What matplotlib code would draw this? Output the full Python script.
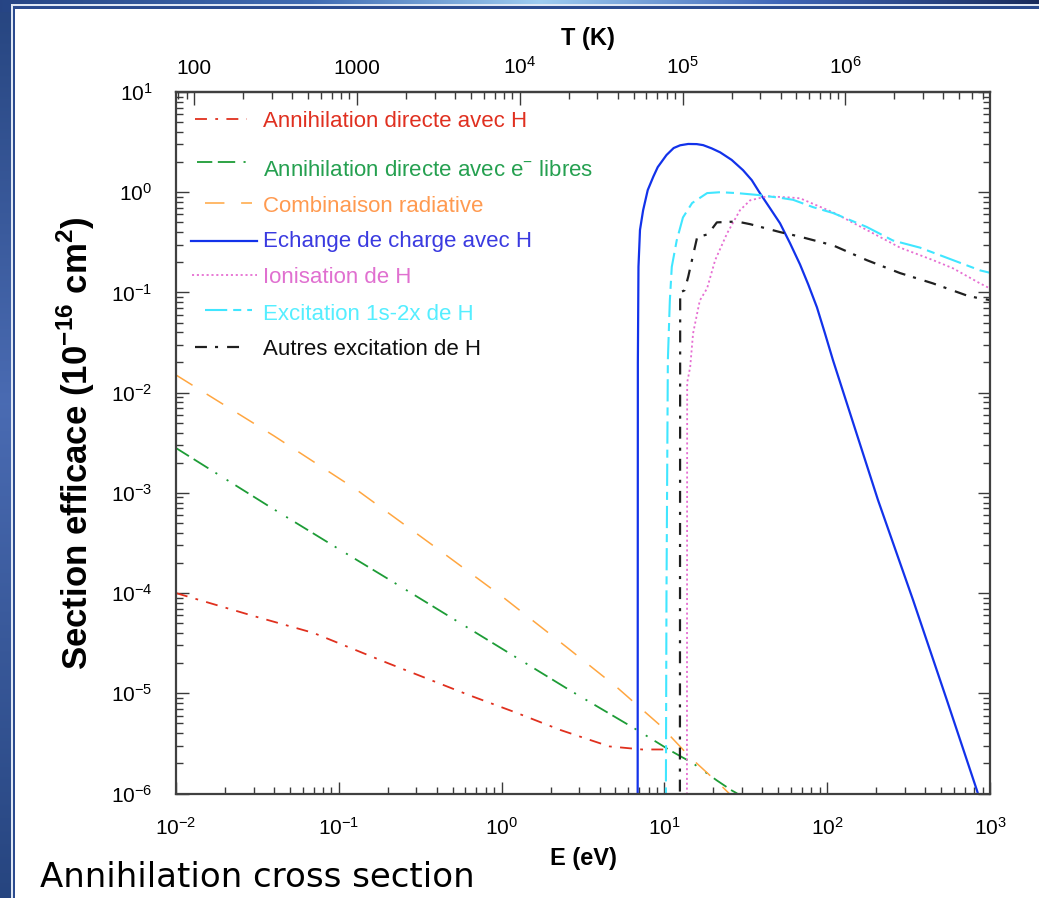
import numpy as np
import matplotlib
matplotlib.use('Agg')
import matplotlib.pyplot as plt
from matplotlib.patches import Rectangle
from matplotlib.ticker import FuncFormatter, FixedLocator, LogLocator, NullFormatter

plt.rcParams['font.family'] = ['Liberation Sans', 'DejaVu Sans']
plt.rcParams['mathtext.fontset'] = 'custom'
plt.rcParams['mathtext.rm'] = 'Liberation Sans'
plt.rcParams['mathtext.bf'] = 'Liberation Sans:bold'
plt.rcParams['axes.unicode_minus'] = False
plt.rcParams['lines.scale_dashes'] = False

# cross sections in 1e-16 cm^2 versus positron energy in eV
e_ann_h = [0.01, 0.03, 0.07, 0.2, 0.64, 1.2, 2.3, 3.35, 4.6, 7.3, 10.5]
s_ann_h = [1.0e-4, 5.9e-5, 4.0e-5, 2.0e-5, 9.5e-6, 6.5e-6, 4.3e-6, 3.5e-6, 2.95e-6, 2.75e-6, 2.75e-6]

e_ann_e = [0.01, 0.038, 0.1, 0.206, 1.0, 2.63, 6.8, 10.8, 15.0, 21.0, 26.0, 28.0]
s_ann_e = [2.8e-3, 7.2e-4, 2.75e-4, 1.35e-4, 2.8e-5, 1.07e-5, 4.3e-6, 2.7e-6, 2.0e-6, 1.35e-6, 1.07e-6, 1.0e-6]

e_rad = [0.01, 0.04, 0.129, 0.4, 1.02, 2.5, 5.1, 9.4, 14.4, 22.9, 25.0]
s_rad = [1.5e-2, 3.7e-3, 1.07e-3, 2.8e-4, 9.1e-5, 2.9e-5, 1.15e-5, 4.8e-6, 2.3e-6, 1.15e-6, 1.0e-6]

e_cx = [6.85, 6.87, 6.93, 7.08, 7.4, 7.9, 8.55, 9.1, 10.3, 11.4, 12.5, 14.0, 15.8, 17.3,
        19.5, 22.0, 25.9, 30.4, 34.4, 38.6, 44.6, 51.3, 59.1, 68.1, 76.5, 86.5, 96.9,
        108.6, 205, 337, 544, 832, 900]
s_cx = [5e-7, 0.02, 0.18, 0.42, 0.66, 1.05, 1.43, 1.78, 2.35, 2.76, 2.94, 3.03, 3.02, 2.95,
        2.74, 2.5, 2.10, 1.66, 1.32, 0.98, 0.69, 0.49, 0.31, 0.19, 0.12, 0.071, 0.039,
        0.021, 8.5e-4, 8.5e-5, 8.5e-6, 1.07e-6, 7e-7]

e_ion = [13.75, 13.8, 14.4, 15.0, 15.9, 16.5, 18.3, 20.5, 24.3, 29.1, 33.6, 42.7, 56.6,
         68.1, 108.6, 175, 280, 447, 593, 869, 973]
s_ion = [5e-7, 0.0126, 0.018, 0.039, 0.062, 0.083, 0.11, 0.21, 0.39, 0.66, 0.83, 0.91, 0.89,
         0.87, 0.63, 0.42, 0.28, 0.21, 0.174, 0.123, 0.112]

e_exc2 = [10.2, 10.3, 10.5, 10.8, 11.1, 11.9, 13.0, 14.8, 18.3, 22.0, 27.9, 37.1, 51.3,
          61.7, 81.8, 108.6, 175, 253, 371, 593, 869, 1000]
s_exc2 = [5e-7, 1e-4, 0.021, 0.083, 0.18, 0.33, 0.56, 0.78, 0.98, 1.0, 0.98, 0.94, 0.88,
          0.84, 0.71, 0.62, 0.45, 0.33, 0.28, 0.21, 0.166, 0.157]

e_exc = [12.45, 12.5, 13.3, 14.0, 15.9, 18.5, 21.0, 27.9, 33.6, 51.3, 68.1, 108.6, 175,
         280, 447, 723, 869, 1000]
s_exc = [5e-7, 0.1, 0.105, 0.143, 0.357, 0.38, 0.50, 0.51, 0.48, 0.40, 0.36, 0.295, 0.21,
         0.156, 0.123, 0.093, 0.087, 0.084]

labels = ['Annihilation directe avec H',
          'Annihilation directe avec e$^{-}$ libres',
          'Combinaison radiative',
          'Echange de charge avec H',
          'Ionisation de H',
          'Excitation 1s-2x de H',
          'Autres excitation de H']

t_ticks = [100, 1000, 1e4, 1e5, 1e6]

# T = 2E / 3k
K_EV = 8.617e-5
def e_to_t(e):
    return 2.0 * np.asarray(e) / (3.0 * K_EV)
def t_to_e(t):
    return 3.0 * K_EV * np.asarray(t) / 2.0

W, H = 1039, 898
fig = plt.figure(figsize=(W / 100, H / 100), dpi=100)

# slide frame
bg = fig.add_axes([0, 0, 1, 1], zorder=-10)
bg.set_xlim(0, W)
bg.set_ylim(H, 0)
bg.axis('off')
yy = np.linspace(0, 1, H)
side = np.stack([np.interp(yy, [0, 0.45, 1], c) for c in
                 ([0.15, 0.29, 0.15], [0.27, 0.42, 0.27], [0.50, 0.70, 0.50])], axis=-1)
bg.imshow(np.repeat(side[:, None, :], 4, axis=1), extent=(0, W, H, 0), aspect='auto')
xx = np.linspace(0, 1, W)
top = np.stack([np.interp(xx, [0, 0.3, 0.52, 0.75, 1], c) for c in
                ([0.15, 0.25, 0.62, 0.25, 0.10], [0.27, 0.42, 0.80, 0.40, 0.17],
                 [0.52, 0.70, 0.94, 0.72, 0.36])], axis=-1)
bg.imshow(np.repeat(top[None, :, :], 4, axis=0), extent=(0, W, 12, 0), aspect='auto')
bg.add_patch(Rectangle((11, 4), W, H, fc='#dfe7f4', ec='none'))
bg.add_patch(Rectangle((12.5, 5.5), W, H, fc='#2b4b8f', ec='none'))
bg.add_patch(Rectangle((15, 9), W, H, fc='white', ec='none'))

ax = fig.add_axes([176 / W, 1 - 793.5 / H, 814 / W, 701.5 / H])
ax.set_xscale('log')
ax.set_yscale('log')
ax.set_xlim(1e-2, 1e3)
ax.set_ylim(1e-6, 1e1)

styles = [
    dict(color='#e0301e', lw=1.3, dashes=(8.6, 6.0, 2.0, 6.0)),
    dict(color='#1d9c36', lw=1.3, dashes=(11, 4, 12.5, 6, 1.5, 8, 1.5, 6)),
    dict(color='#ffa640', lw=1.1, dashes=(14, 12)),
    dict(color='#1232ea', lw=1.6),
    dict(color='#e66ed2', lw=1.3, dashes=(1.5, 2.0)),
    dict(color='#40e6ff', lw=1.5, dashes=(16, 4.3, 5.8, 4.3)),
    dict(color='#202020', lw=1.6, dashes=(8.6, 5.8, 2.2, 6.5)),
]
text_colors = ['#e03020', '#25a050', '#ff9a50', '#3a3ae0', '#e070d0', '#55eeff', '#101010']

series = [(e_ann_h, s_ann_h), (e_ann_e, s_ann_e), (e_rad, s_rad), (e_cx, s_cx),
          (e_ion, s_ion), (e_exc2, s_exc2), (e_exc, s_exc)]
for (e, s), st in zip(series, styles):
    ax.plot(e, s, solid_capstyle='butt', dash_capstyle='butt',
            solid_joinstyle='round', **st)

# legend, drawn by hand to keep the uneven row spacing
key_x = [(195, 247), (197, 252), (205, 252), (191, 257), (192, 257), (205, 252), (195, 247)]
key_y = [119.3, 161.7, 203.3, 240.7, 275, 310, 347.3]
text_base = [126.7, 176, 211.7, 246.7, 283.3, 320, 355]
for i, lab in enumerate(labels):
    x0, x1 = key_x[i]
    ax.plot([x0 / W, x1 / W], [1 - key_y[i] / H] * 2, transform=fig.transFigure,
            clip_on=False, **styles[i])
    fig.text(263 / W, 1 - text_base[i] / H, lab, color=text_colors[i], fontsize=16,
             ha='left', va='baseline')

tick_kw = dict(direction='in', color='#3a3a3a', width=1.0)
ax.tick_params(which='major', length=9, **tick_kw)
ax.tick_params(which='minor', length=5, **tick_kw)
ax.tick_params(axis='both', which='both', right=True, top=False, labelsize=15)
ax.tick_params(axis='y', pad=17)
ax.tick_params(axis='x', pad=17)
ax.xaxis.set_major_locator(LogLocator(base=10, numticks=20))
ax.xaxis.set_minor_locator(LogLocator(base=10, subs=np.arange(2, 10), numticks=20))
ax.yaxis.set_major_locator(LogLocator(base=10, numticks=20))
ax.yaxis.set_minor_locator(LogLocator(base=10, subs=np.arange(2, 10), numticks=20))
ax.xaxis.set_minor_formatter(NullFormatter())
ax.yaxis.set_minor_formatter(NullFormatter())
for sp in ax.spines.values():
    sp.set_color('#404040')
    sp.set_linewidth(1.6)


def t_label(t, pos):
    if t < 5000:
        return '%d' % round(t)
    return r'$\mathdefault{10^{%d}}$' % round(np.log10(t))


secax = ax.secondary_xaxis('top', functions=(e_to_t, t_to_e))
secax.xaxis.set_major_locator(FixedLocator(t_ticks))
secax.xaxis.set_minor_locator(LogLocator(base=10, subs=np.arange(2, 10), numticks=20))
secax.xaxis.set_major_formatter(FuncFormatter(t_label))
secax.xaxis.set_minor_formatter(NullFormatter())
secax.tick_params(which='major', length=9, pad=10, labelsize=15, **tick_kw)
secax.tick_params(which='minor', length=5, **tick_kw)
secax.spines['top'].set_color('#404040')
secax.spines['top'].set_linewidth(1.6)

ax.set_ylabel('Section efficace (10$^{\\mathbf{-16}}$ cm$^{\\mathbf{2}}$)',
              fontsize=25, fontweight='bold')
ax.yaxis.set_label_coords(-0.097, 0.5)
fig.text(588 / W, 1 - 38 / H, 'T (K)', fontsize=17, fontweight='bold',
         ha='center', va='center')
fig.text(583 / W, 1 - 858 / H, 'E (eV)', fontsize=17, fontweight='bold',
         ha='center', va='center')
fig.text(40 / W, 1 - 887 / H, 'Annihilation cross section', family='DejaVu Sans',
         fontsize=24.5, ha='left', va='baseline')

fig.savefig('out.png', dpi=100)
